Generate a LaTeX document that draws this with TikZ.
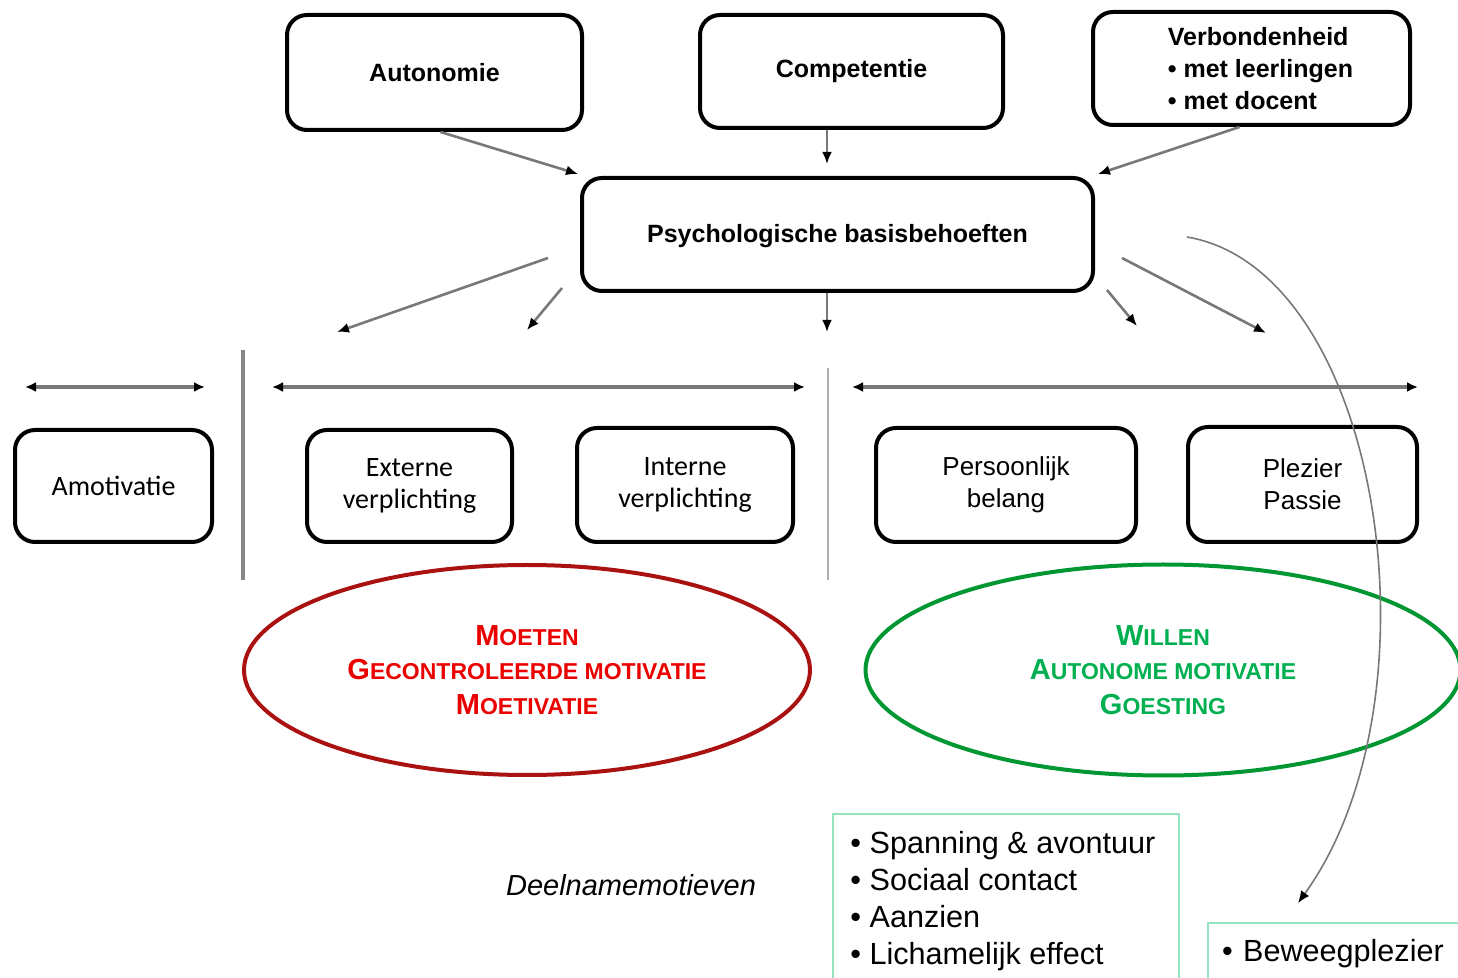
\documentclass[tikz,border=0pt]{standalone}
\usepackage{fontspec}
\setmainfont{Liberation Sans}
\newfontfamily\calibrifam{Carlito}
\usetikzlibrary{arrows.meta,shapes.geometric,calc}

\definecolor{linegray}{RGB}{120,120,120}
\definecolor{sepgray}{RGB}{135,135,135}
\definecolor{seplight}{RGB}{175,175,175}
\definecolor{moetred}{RGB}{235,0,0}
\definecolor{ellred}{RGB}{170,18,18}
\definecolor{willgreen}{RGB}{0,176,80}
\definecolor{ellgreen}{RGB}{0,150,50}
\definecolor{listgreen}{RGB}{150,228,190}

% larger first letter for the small-caps headings
\newcommand\capsz[1]{{\fontsize{14.5}{17}\selectfont #1}}

\begin{document}
\begin{tikzpicture}[x=0.5pt,y=-0.5pt,
  box/.style={draw=black, line width=2pt, rounded corners=10pt, fill=white, align=center, inner sep=2pt},
  topbox/.style={box, font=\bfseries\fontsize{12.5}{16}\selectfont},
  levelbox/.style={box, font=\fontsize{13}{16}\selectfont},
  calbox/.style={box, font=\calibrifam\fontsize{14}{16}\selectfont},
  feed/.style={draw=linegray, line width=1.3pt, -{Latex[length=6pt,width=5pt,color=black]}},
  span/.style={draw=linegray, line width=1.6pt, {Latex[length=5.5pt,width=5pt,color=black]}-{Latex[length=5.5pt,width=5pt,color=black]}},
  motell/.style={ellipse, line width=2pt, align=center, font=\bfseries\fontsize{11.5}{17.25}\selectfont},
  listframe/.style={draw=listgreen, line width=1.2pt}
]
\useasboundingbox (0,0) rectangle (1458,978);

% vertical axis of the central arrows
\coordinate (axis) at (827,0);

% the three basic needs and the central box
\node[topbox, minimum width=147.5pt, minimum height=57.5pt] (auto) at (434.5,72.5) {Autonomie};
\node[topbox, minimum width=151.5pt, minimum height=56.5pt] (comp) at (851.5,71.5) {Competentie};
\node[topbox, minimum width=158.5pt, minimum height=56.5pt, align=left] (verb) at (1251.5,68.5)
  {\hspace*{9pt}Verbondenheid\\\hspace*{9pt}• met leerlingen\\\hspace*{9pt}• met docent};
\node[topbox, minimum width=255.5pt, minimum height=56.5pt, text depth=1pt] (psych) at (837.5,234.5) {Psychologische basisbehoeften};

% arrows into the central box
\draw[feed] ($(auto.south)+(6,0)$) -- ($(psych.north west)+(-2,-2)$);
\draw[feed, shorten >=6pt] (comp.south -| axis) -- (psych.north -| axis);
\draw[feed] ($(verb.south)+(-12,0)$) -- ($(psych.north east)+(3,-2)$);

% arrows out of the central box
\coordinate (o1s) at (548,258);  \coordinate (o1e) at (337,332);
\coordinate (o2s) at (562,288);  \coordinate (o2e) at (527,330);
\coordinate (o3e) at (827,332);
\coordinate (o4s) at (1107,290); \coordinate (o4e) at (1137,326);
\coordinate (o5s) at (1122,258); \coordinate (o5e) at (1266,333);
\draw[feed] (o1s) -- (o1e);
\draw[feed] (o2s) -- (o2e);
\draw[feed] (psych.south -| axis) -- (o3e);
\draw[feed] (o4s) -- (o4e);
\draw[feed] (o5s) -- (o5e);

% continuum arrows and separators
\coordinate (s1a) at (25,387);  \coordinate (s1b) at (205,387);
\coordinate (s2a) at (272,387); \coordinate (s2b) at (805,387);
\coordinate (s3a) at (852,387); \coordinate (s3b) at (1418,387);
\draw[span] (s1a) -- (s1b);
\draw[span] (s2a) -- (s2b);
\draw[span] (s3a) -- (s3b);

\coordinate (v1a) at (243,350); \coordinate (v1b) at (243,580);
\coordinate (v2a) at (828,368); \coordinate (v2b) at (828,580);
\draw[draw=sepgray, line width=2pt] (v1a) -- (v1b);
\draw[draw=seplight, line width=0.9pt] (v2a) -- (v2b);

% motivation types
\node[calbox, minimum width=98.5pt, minimum height=56pt] (amot) at (113.5,486) {Amotivatie};
\node[calbox, minimum width=102.5pt, minimum height=56pt] (ext) at (409.5,486) {Externe\\verplichting};
\node[calbox, minimum width=108pt, minimum height=57pt] (int) at (685,485) {Interne\\verplichting};
\node[levelbox, minimum width=130pt, minimum height=57pt] (pers) at (1006,485) {Persoonlijk\\belang};
\node[levelbox, minimum width=114.5pt, minimum height=57.5pt] (plez) at (1302.5,484.5) {Plezier\\Passie};

% controlled versus autonomous motivation
\node[motell, draw=ellred, text=moetred, minimum width=283pt, minimum height=105pt] (moeten) at (527,670)
  {\capsz{M}OETEN\\\capsz{G}ECONTROLEERDE MOTIVATIE\\\capsz{M}OETIVATIE};
\node[motell, draw=ellgreen, text=willgreen, minimum width=297.5pt, minimum height=105.5pt] (willen) at (1163,670)
  {\capsz{W}ILLEN\\\capsz{A}UTONOME MOTIVATIE\\\capsz{G}OESTING};

% participation motives
\node[font=\itshape\fontsize{14.5}{17}\selectfont] (deel) at (631,885) {Deelnamemotieven};
\node[listframe, anchor=north west, minimum width=173pt, minimum height=92pt] (motbox) at (832,813) {};
\node[anchor=north west, align=left, inner sep=0pt, font=\fontsize{15.3}{18.5}\selectfont] (motlist) at (850,831)
  {• Spanning \& avontuur\\• Sociaal contact\\• Aanzien\\• Lichamelijk effect};
\node[listframe, anchor=north west, minimum height=30pt, text width=118pt, inner xsep=7pt, align=left,
      font=\fontsize{15.3}{18.5}\selectfont] (beweeg) at (1207,922) {• Beweegplezier};

% curved link from the basic needs to the movement pleasure
\coordinate (cstart) at (1187,237);
\coordinate (cend) at (1298,903);
\draw[draw=linegray, line width=0.8pt, -{Latex[length=6pt,width=5pt,color=black]}]
  (cstart) .. controls (1382,270) and (1445,700) .. (cend);
\end{tikzpicture}
\end{document}
